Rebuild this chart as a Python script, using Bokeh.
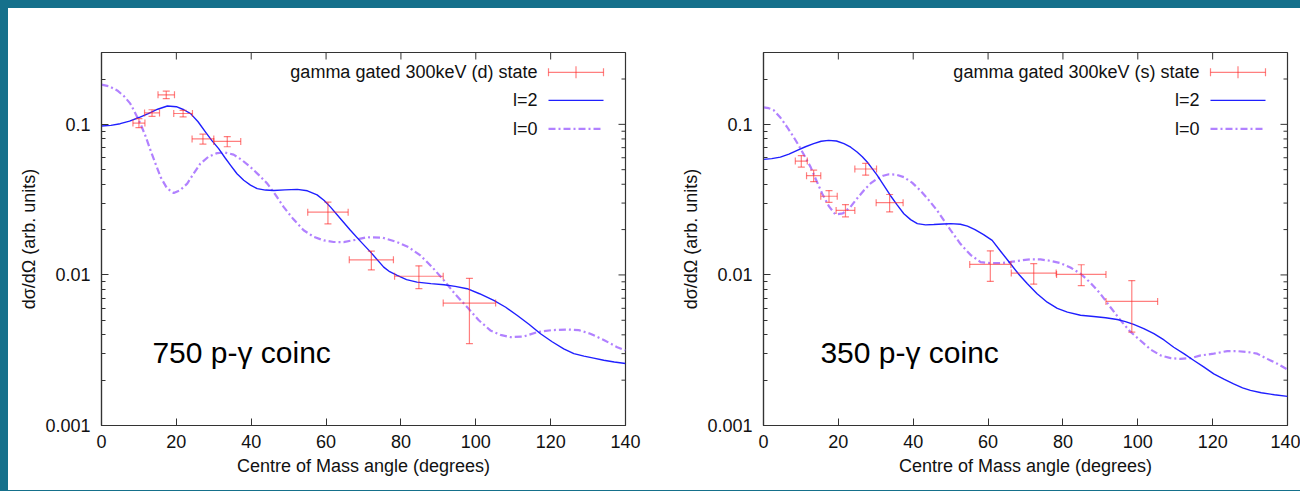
from bokeh.plotting import figure
from bokeh.models import (Range1d, FixedTicker, Whisker, TeeHead,
                          ColumnDataSource, CustomJSTickFormatter, Label)
from bokeh.layouts import row
from bokeh.embed import file_html
from bokeh.resources import INLINE
from bokeh.core.properties import value

# ---------------- data ----------------
X_TICKS = [0, 20, 40, 60, 80, 100, 120, 140]
Y_TICKS = [0.001, 0.01, 0.1]
Y_MINOR = [k * 10.0 ** e for e in (-3, -2, -1) for k in range(2, 10)]

# left panel: gamma gated 300keV (d) state
d_x = [10.0, 13.5, 17.3, 21.8, 27.1, 33.6, 60.5, 72.1, 84.8, 98.3]
d_y = [0.102, 0.119, 0.157, 0.118, 0.080, 0.077, 0.0261, 0.0126, 0.0098, 0.0065]
d_xerr = [1.6, 2.0, 2.2, 2.5, 2.9, 3.6, 5.4, 5.9, 6.5, 7.0]
d_yerr = [0.007, 0.006, 0.009, 0.006, 0.006, 0.006, 0.0043, 0.0018, 0.0017, 0.0030]

d_l2_x = [0, 2.5, 5, 7.5, 10, 12.5, 15, 17.6, 20, 22, 23.8, 25.8, 27.8, 29.5, 31.3, 33,
          34.5, 36.2, 38.0, 39.8, 41.6, 43.8, 46.0, 49, 52.3, 55.0, 57.6, 59.5, 61.2, 63.8,
          66.5, 69.2, 71.9, 75.4, 77, 79.0, 81.5, 84.3, 88, 91.5, 94.5, 97.7, 101, 104.8,
          108, 111.1, 114.2, 117.3, 120.4, 123.5, 126.2, 128.9, 131.5, 134.2, 137, 140]
d_l2_y = [0.0975, 0.0985, 0.101, 0.105, 0.111, 0.118, 0.126, 0.1324, 0.131, 0.125, 0.1178,
          0.104, 0.0888, 0.078, 0.0690, 0.060, 0.0534, 0.047, 0.0425, 0.0395, 0.0374,
          0.0366, 0.0364, 0.0367, 0.0370, 0.0362, 0.0340, 0.0312, 0.0282, 0.0237, 0.0198,
          0.0167, 0.01417, 0.01127, 0.0105, 0.00993, 0.0093, 0.00896, 0.00875, 0.00861,
          0.0084, 0.00810, 0.0075, 0.00677, 0.0061, 0.00538, 0.0047, 0.00407, 0.0036,
          0.00323, 0.0030, 0.00289, 0.0028, 0.00271, 0.00264, 0.00258]

d_l0_x = [0, 2, 4.2, 6, 7.7, 9, 10.4, 11.8, 13.1, 14.4, 15.8, 17.5, 19.3, 21, 22.9, 24.6,
          26.4, 28.6, 30.9, 33, 35.3, 37.5, 39.8, 42, 44.3, 46.5, 48.7, 51.3, 54.0, 56.7,
          59.4, 62, 64.7, 67.8, 71.0, 75, 79.0, 82, 85.2, 88.3, 91.5, 94.6, 97.7, 100.8,
          103.9, 106.6, 109.3, 112.8, 116.4, 120.4, 124.4, 127.5, 130.6, 134.2, 137.8, 140]
d_l0_y = [0.1836, 0.179, 0.168, 0.154, 0.1372, 0.119, 0.1011, 0.083, 0.0672, 0.055, 0.0446,
          0.0376, 0.0350, 0.0365, 0.0404, 0.047, 0.0548, 0.0610, 0.0644, 0.0650, 0.0629,
          0.0580, 0.0520, 0.0462, 0.0404, 0.0340, 0.0282, 0.0234, 0.0198, 0.0179, 0.01695,
          0.01655, 0.01652, 0.0171, 0.0178, 0.0177, 0.01652, 0.0153, 0.01348, 0.0113,
          0.00919, 0.0074, 0.00611, 0.0050, 0.00428, 0.0040, 0.00386, 0.0039, 0.00417,
          0.0043, 0.00434, 0.0043, 0.00407, 0.0037, 0.00331, 0.00315]

# right panel: gamma gated 300keV (s) state
s_x = [10.1, 13.4, 17.5, 21.9, 27.3, 33.7, 60.6, 72.2, 84.9, 98.4]
s_y = [0.0570, 0.0456, 0.0333, 0.0268, 0.0505, 0.0302, 0.01175, 0.01028, 0.01008, 0.00667]
s_xerr = [1.6, 1.9, 2.2, 2.5, 2.9, 3.6, 5.5, 6.0, 6.6, 6.9]
s_yerr = [0.005, 0.004, 0.003, 0.0025, 0.0045, 0.004, 0.0027, 0.0016, 0.0016, 0.0025]

s_l2_x = [0, 2.2, 4.5, 6.8, 9.0, 11.2, 13.4, 15.4, 17.4, 19.5, 21.5, 23.3, 25.0, 26.4, 27.7,
          29, 30.4, 32.1, 33.9, 35.7, 37.5, 39.3, 41.1, 43.3, 45.5, 48, 50.0, 52.6, 54.5,
          56.5, 58.8, 61.1, 63.5, 66.0, 68.2, 70.5, 73.1, 75.8, 78.5, 81.2, 84.7, 88.2,
          91.4, 94.5, 96.7, 98.9, 101.6, 104.3, 107, 109.6, 112.3, 115.0, 117.6, 120.3,
          123, 125.6, 128, 130.1, 133, 136.5, 140]
s_l2_y = [0.0585, 0.0592, 0.0606, 0.0635, 0.0672, 0.0710, 0.0744, 0.0772, 0.0783, 0.0775,
          0.0744, 0.0705, 0.0655, 0.0610, 0.0562, 0.051, 0.0458, 0.0395, 0.0337, 0.0292,
          0.0255, 0.0233, 0.0219, 0.0215, 0.0216, 0.0218, 0.0219, 0.0217, 0.0211, 0.0200,
          0.0185, 0.01695, 0.0142, 0.01187, 0.0101, 0.00874, 0.0075, 0.00659, 0.0060,
          0.00566, 0.0054, 0.00530, 0.0052, 0.00506, 0.0049, 0.00469, 0.0044, 0.00407,
          0.0037, 0.00331, 0.0030, 0.00270, 0.00245, 0.00220, 0.00203, 0.00189, 0.00178,
          0.00171, 0.00165, 0.0016, 0.00156]

s_l0_x = [0, 1.4, 2.75, 4.5, 6.3, 7.9, 9.4, 11, 12.6, 14.1, 15.7, 17.5, 19.2, 21.2, 23.2,
          25, 26.8, 28.6, 30.4, 32, 33.5, 35.5, 37.5, 39.7, 41.9, 44.1, 46.4, 48.2, 50.0,
          52.6, 55.3, 58.0, 60.6, 63.3, 66, 68.7, 71.3, 74.0, 76.7, 79.3, 82, 84.7, 87.3,
          90.0, 92.7, 95.4, 98, 100.7, 103.4, 106.1, 108.8, 111.4, 114.1, 116.8, 120.3,
          123.9, 126.5, 129.2, 131.9, 134.6, 137.3, 140]
s_l0_y = [0.1297, 0.128, 0.1239, 0.111, 0.0960, 0.0835, 0.0725, 0.0615, 0.0520, 0.0425,
          0.0346, 0.0285, 0.0252, 0.0256, 0.0282, 0.0322, 0.0364, 0.0405, 0.0436, 0.0456,
          0.0466, 0.0463, 0.0446, 0.0410, 0.0364, 0.0315, 0.0268, 0.0230, 0.0198, 0.0161,
          0.0136, 0.01216, 0.0120, 0.01198, 0.0122, 0.01247, 0.0127, 0.01267, 0.0124,
          0.01198, 0.0112, 0.01019, 0.0089, 0.00750, 0.0061, 0.00499, 0.0042, 0.00367,
          0.0032, 0.00292, 0.0028, 0.00277, 0.0028, 0.00292, 0.0030, 0.00312, 0.00312,
          0.00308, 0.0030, 0.00277, 0.00257, 0.00235]

LEGEND_LABELS_D = ["gamma gated 300keV (d) state", "l=2", "l=0"]
LEGEND_LABELS_S = ["gamma gated 300keV (s) state", "l=2", "l=0"]

# ---------------- style ----------------
FONT = "Liberation Sans"
FS = "18px"
TEAL = "#15708b"
RED = "#ff2a2a"
BLUE = "#1f1fff"
PURPLE = "#a873ff"
FRAME = "#333333"

X_MIN, X_MAX, Y_MIN, Y_MAX = 0, 140, 0.001, 0.3
DEC_PX = 150.5            # pixels per decade on the y axis
PX_PER_DEG = 524 / 140.0  # pixels per degree on the x axis
MAJ, MIN_ = 7, 4          # inward tick lengths in px


def ly(py):
    """screen y (reference pixels, 0.1 line at 124 px) -> data value"""
    return 10 ** (-1 + (124 - py) / DEC_PX)


def style_axis(ax):
    ax.major_tick_in = MAJ
    ax.major_tick_out = 0
    ax.minor_tick_in = MIN_
    ax.minor_tick_out = 0
    ax.axis_line_color = FRAME
    ax.axis_line_width = 1.2
    ax.major_tick_line_color = FRAME
    ax.minor_tick_line_color = FRAME
    ax.major_label_text_font = FONT
    ax.major_label_text_font_size = FS
    ax.major_label_text_color = "#111111"
    ax.axis_label_text_font = FONT
    ax.axis_label_text_font_size = FS
    ax.axis_label_text_font_style = "normal"
    ax.axis_label_text_color = "#111111"


def make_panel(px, py, pxe, pye, l2x, l2y, l0x, l0y, leg_labels, note, note_x,
               width, min_left, min_right):
    p = figure(width=width, height=482, x_range=Range1d(X_MIN, X_MAX),
               y_range=Range1d(Y_MIN, Y_MAX), y_axis_type="log",
               min_border_left=min_left, min_border_right=min_right,
               min_border_top=44, min_border_bottom=65,
               output_backend="svg", toolbar_location=None)
    p.grid.visible = False
    p.outline_line_color = FRAME
    p.outline_line_width = 1.2
    p.background_fill_color = "white"
    p.border_fill_color = "white"

    p.xaxis.ticker = FixedTicker(ticks=X_TICKS)
    p.yaxis.ticker = FixedTicker(ticks=Y_TICKS, minor_ticks=Y_MINOR)
    p.yaxis.formatter = CustomJSTickFormatter(code="return tick.toString();")
    p.xaxis.axis_label = "Centre of Mass angle (degrees)"
    p.yaxis.axis_label = "dσ/dΩ (arb. units)"
    for ax in p.xaxis + p.yaxis:
        style_axis(ax)
    p.xaxis.major_label_standoff = 9
    p.yaxis.major_label_standoff = 11
    p.xaxis.axis_label_standoff = 5
    p.yaxis.axis_label_standoff = 3

    # mirrored inward ticks on top and right edges (gnuplot style)
    tx = X_TICKS[1:-1]
    p.segment(x0=tx, y0=[Y_MAX] * len(tx), x1=tx,
              y1=[Y_MAX / 10 ** (MAJ / DEC_PX)] * len(tx), line_color=FRAME, line_width=1)
    ry = [t for t in Y_TICKS if Y_MIN < t < Y_MAX]
    p.segment(x0=[X_MAX] * len(ry), y0=ry, x1=[X_MAX - MAJ / PX_PER_DEG] * len(ry), y1=ry,
              line_color=FRAME, line_width=1)
    rm = [t for t in Y_MINOR if Y_MIN < t <= Y_MAX]
    p.segment(x0=[X_MAX] * len(rm), y0=rm, x1=[X_MAX - MIN_ / PX_PER_DEG] * len(rm), y1=rm,
              line_color=FRAME, line_width=1)

    # theory curves
    p.line(l0x, l0y, line_color=PURPLE, line_width=2.2, line_dash="7 3 2 3", line_alpha=0.9,
           line_join="round")
    p.line(l2x, l2y, line_color=BLUE, line_width=1.4, line_join="round")

    # data with error bars
    src = ColumnDataSource(dict(
        x=px, y=py,
        ylo=[a - b for a, b in zip(py, pye)], yhi=[a + b for a, b in zip(py, pye)],
        xlo=[a - b for a, b in zip(px, pxe)], xhi=[a + b for a, b in zip(px, pxe)]))
    for dim, base, lo, hi in (("height", "x", "ylo", "yhi"), ("width", "y", "xlo", "xhi")):
        w = Whisker(source=src, base=base, lower=lo, upper=hi, dimension=dim,
                    line_color=RED, line_alpha=0.6, line_width=1.2, level="glyph",
                    upper_head=TeeHead(size=7, line_color=RED, line_alpha=0.6, line_width=1.2),
                    lower_head=TeeHead(size=7, line_color=RED, line_alpha=0.6, line_width=1.2))
        p.add_layout(w)

    # gnuplot-style legend (text right-aligned, sample at right)
    tx_ = X_MAX - 88 / PX_PER_DEG
    sx0 = X_MAX - 77 / PX_PER_DEG
    sx1 = X_MAX - 22 / PX_PER_DEG
    rows_y = [ly(72), ly(100), ly(128.5)]
    p.text(x=[tx_] * 3, y=rows_y, text=leg_labels, text_align="right",
           text_baseline="middle", text_font=value(FONT), text_font_size=FS,
           text_color="#111111")
    cap = 10 ** (4 / DEC_PX)
    tick = 10 ** (6 / DEC_PX)
    xm = (sx0 + sx1) / 2
    p.segment(x0=[sx0, sx0, sx1, xm],
              y0=[rows_y[0], rows_y[0] / cap, rows_y[0] / cap, rows_y[0] / tick],
              x1=[sx1, sx0, sx1, xm],
              y1=[rows_y[0], rows_y[0] * cap, rows_y[0] * cap, rows_y[0] * tick],
              line_color=RED, line_alpha=0.6, line_width=1.2)
    p.segment(x0=[sx0], y0=[rows_y[1]], x1=[sx1], y1=[rows_y[1]], line_color=BLUE,
              line_width=1.4)
    p.segment(x0=[sx0], y0=[rows_y[2]], x1=[sx1], y1=[rows_y[2]], line_color=PURPLE,
              line_width=2.2, line_dash="7 3 2 3", line_alpha=0.9)

    p.add_layout(Label(x=note_x, y=ly(352), text=note,
                       text_font=FONT, text_font_size="30px", text_baseline="middle",
                       text_color="#000000"))
    return p


p1 = make_panel(d_x, d_y, d_xerr, d_yerr, d_l2_x, d_l2_y, d_l0_x, d_l0_y,
                LEGEND_LABELS_D, "750 p-γ coinc", 13.6, 652, 93, 35)
p2 = make_panel(s_x, s_y, s_xerr, s_yerr, s_l2_x, s_l2_y, s_l0_x, s_l0_y,
                LEGEND_LABELS_S, "350 p-γ coinc", 15.2, 640, 103, 13)

layout = row(p1, p2, styles={"border-top": f"8px solid {TEAL}",
                             "border-left": f"8px solid {TEAL}",
                             "border-bottom": f"2px solid {TEAL}",
                             "background-color": "white"})

open("out.html", "w").write(file_html(layout, INLINE))
